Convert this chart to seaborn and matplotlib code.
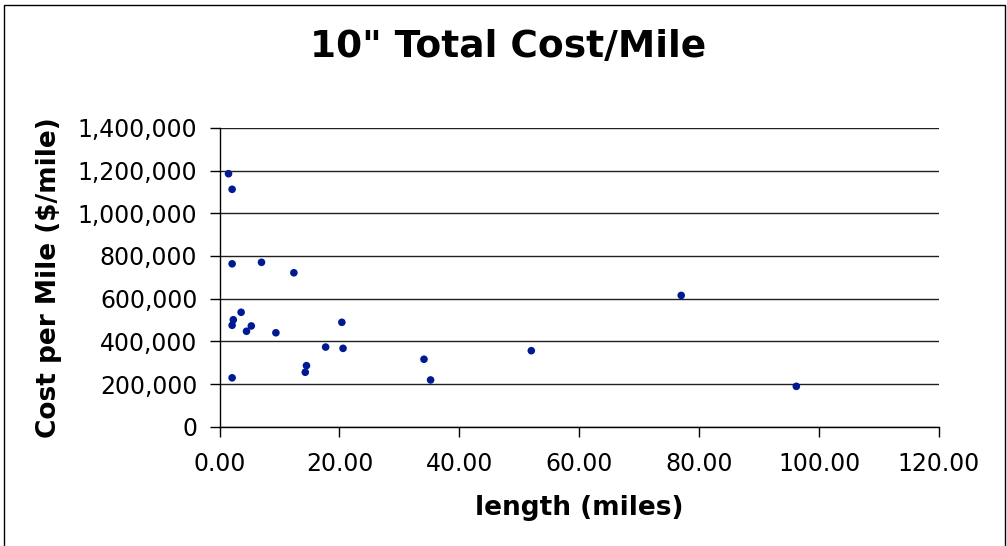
import pandas as pd
import matplotlib.pyplot as plt
import seaborn as sns
from matplotlib.patches import Rectangle
from matplotlib.ticker import FuncFormatter, MultipleLocator

# values
length_miles = [1.5, 2.1, 2.1, 7.0, 12.4, 3.6, 2.3, 2.1, 5.3, 4.5, 9.4,
                20.4, 17.7, 20.6, 14.5, 14.3, 2.1, 77.0, 52.0, 34.1, 35.2, 96.2]
cost_per_mile = [1185000, 1112000, 763000, 770000, 721000, 536000, 501000,
                 475000, 472000, 447000, 440000, 489000, 373000, 367000,
                 286000, 255000, 229000, 615000, 356000, 316000, 219000, 189000]

title = '10" Total Cost/Mile'
x_label = 'length (miles)'
y_label = 'Cost per Mile ($/mile)'

sns.set_style("white")
plt.rcParams['font.family'] = ['DejaVu Sans']
plt.rcParams['text.color'] = 'black'
plt.rcParams['axes.labelcolor'] = 'black'
plt.rcParams['xtick.color'] = 'black'
plt.rcParams['ytick.color'] = 'black'

df = pd.DataFrame({'length': length_miles, 'cost': cost_per_mile})

fig = plt.figure(figsize=(10.07, 5.46), dpi=100)
ax = fig.add_axes([0.218, 0.2185, 0.7145, 0.5474])

sns.scatterplot(data=df, x='length', y='cost', ax=ax, color='#001a94',
                s=30, edgecolor='none', zorder=3)

ax.set_xlim(0, 120)
ax.set_ylim(0, 1400000)
ax.xaxis.set_major_locator(MultipleLocator(20))
ax.yaxis.set_major_locator(MultipleLocator(200000))
ax.xaxis.set_major_formatter(FuncFormatter(lambda v, p: f'{v:.2f}'))
ax.yaxis.set_major_formatter(FuncFormatter(lambda v, p: f'{v:,.0f}'))

ax.grid(axis='y', color='#202020', linewidth=1)
ax.set_axisbelow(True)
for side in ['top', 'right']:
    ax.spines[side].set_visible(False)
for side in ['left', 'bottom']:
    ax.spines[side].set_color('black')
    ax.spines[side].set_linewidth(1)

ax.tick_params(axis='both', direction='out', length=7, width=1,
               color='black', labelsize=17, left=True, bottom=True)
ax.tick_params(axis='x', pad=11)
ax.tick_params(axis='y', pad=9)

ax.set_xlabel(x_label, fontsize=19, fontweight='bold', labelpad=14)
ax.set_ylabel(y_label, fontsize=19, fontweight='bold', labelpad=11)
fig.text(0.505, 0.914, title, ha='center', va='center', fontsize=27,
         fontweight='bold')

# chart border
fig.patches.append(Rectangle((0.004, -0.01), 0.994, 1.0, transform=fig.transFigure,
                             fill=False, edgecolor='black', linewidth=1))

plt.savefig('out.png', dpi=100)
